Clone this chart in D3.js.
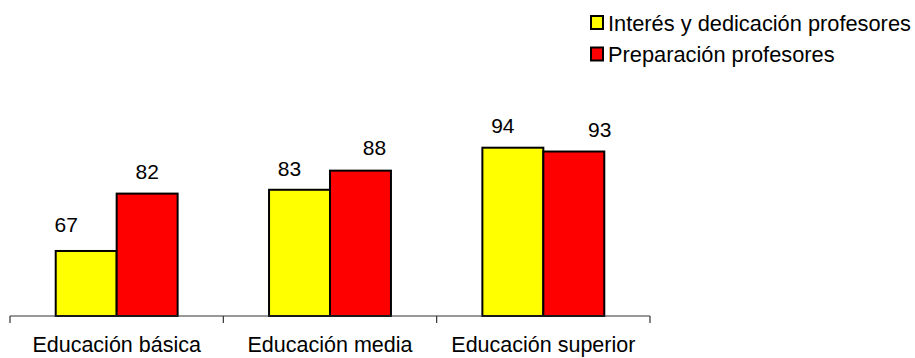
<!DOCTYPE html>
<html>
<head>
<meta charset="utf-8">
<script src="https://cdn.jsdelivr.net/npm/d3@7"></script>
<style>
  html, body { margin: 0; padding: 0; background: #fff; }
  svg { display: block; font-family: "Liberation Sans", Arial, sans-serif; }
</style>
</head>
<body>
<svg id="chart" width="915" height="358"></svg>
<script>
// Categories and series
const categories = ["Educación básica", "Educación media", "Educación superior"];
const seriesNames = ["Interés y dedicación profesores", "Preparación profesores"];
const interes = [67, 83, 94];
const preparacion = [82, 88, 93];
const seriesColors = ["#FFFF00", "#FF0000"];

// Hand-placed label nudges (dx, dy from bar top), per category, per series
const labelNudgeX = [[-20, 0], [-10, 14], [-10, 26]];
const labelNudgeY = [[-19, -15], [-14, -16], [-15, -15]];

const values = [interes, preparacion];

const svg = d3.select("#chart");
const axisY = 316;
const plotLeft = 10, plotRight = 650;

const x0 = d3.scaleBand().domain(categories).range([plotLeft, plotRight]).paddingInner(0).paddingOuter(0);
const x1 = d3.scaleBand().domain(d3.range(seriesNames.length)).range([0, x0.bandwidth()]).paddingInner(0).paddingOuter(0.75);
const y = d3.scaleLinear().domain([50, 100]).range([axisY, axisY - 191.25]);

// Bars
const groups = svg.append("g").selectAll("g")
  .data(categories)
  .join("g")
  .attr("transform", d => `translate(${x0(d)},0)`);

groups.selectAll("rect")
  .data((c, ci) => seriesNames.map((s, si) => ({ si, ci, v: values[si][ci] })))
  .join("rect")
  .attr("x", d => x1(d.si))
  .attr("width", x1.bandwidth())
  .attr("y", d => y(d.v))
  .attr("height", d => axisY - y(d.v))
  .attr("fill", d => seriesColors[d.si])
  .attr("stroke", "#000")
  .attr("stroke-width", 2);

// Value labels
groups.selectAll("text")
  .data((c, ci) => seriesNames.map((s, si) => ({ si, ci, v: values[si][ci] })))
  .join("text")
  .attr("x", d => x1(d.si) + x1.bandwidth() / 2 + labelNudgeX[d.ci][d.si])
  .attr("y", d => y(d.v) + labelNudgeY[d.ci][d.si])
  .attr("text-anchor", "middle")
  .attr("font-size", 21)
  .attr("fill", "#000")
  .text(d => d.v);

// Category axis
const axis = d3.axisBottom(x0).tickSize(0).tickPadding(0);
const axisG = svg.append("g").attr("transform", `translate(0,${axisY})`).call(axis);
axisG.select(".domain").attr("stroke", "#333").attr("stroke-width", 1.2).attr("d", `M${plotLeft},0H${plotRight}`);
axisG.selectAll(".tick text")
  .attr("font-size", 21.5)
  .attr("font-family", "Liberation Sans, Arial, sans-serif")
  .attr("fill", "#000")
  .attr("dy", 0)
  .attr("y", 36);
// Boundary tick marks between categories
const bounds = categories.map(c => x0(c)).concat([x0(categories[categories.length - 1]) + x0.bandwidth()]);
svg.append("g").selectAll("line")
  .data(bounds)
  .join("line")
  .attr("x1", d => d).attr("x2", d => d)
  .attr("y1", axisY).attr("y2", axisY + 7)
  .attr("stroke", "#333").attr("stroke-width", 1.2);

// Legend
const legend = svg.append("g").attr("transform", "translate(590,15)");
const items = legend.selectAll("g")
  .data(seriesNames)
  .join("g")
  .attr("transform", (d, i) => `translate(0,${i * 31.5})`);
items.append("rect")
  .attr("x", 1).attr("y", 1)
  .attr("width", 12).attr("height", 13)
  .attr("fill", (d, i) => seriesColors[i])
  .attr("stroke", "#000").attr("stroke-width", 2);
items.append("text")
  .attr("x", 18).attr("y", 15.5)
  .attr("font-size", 21.8)
  .attr("fill", "#000")
  .text(d => d);
</script>
</body>
</html>
